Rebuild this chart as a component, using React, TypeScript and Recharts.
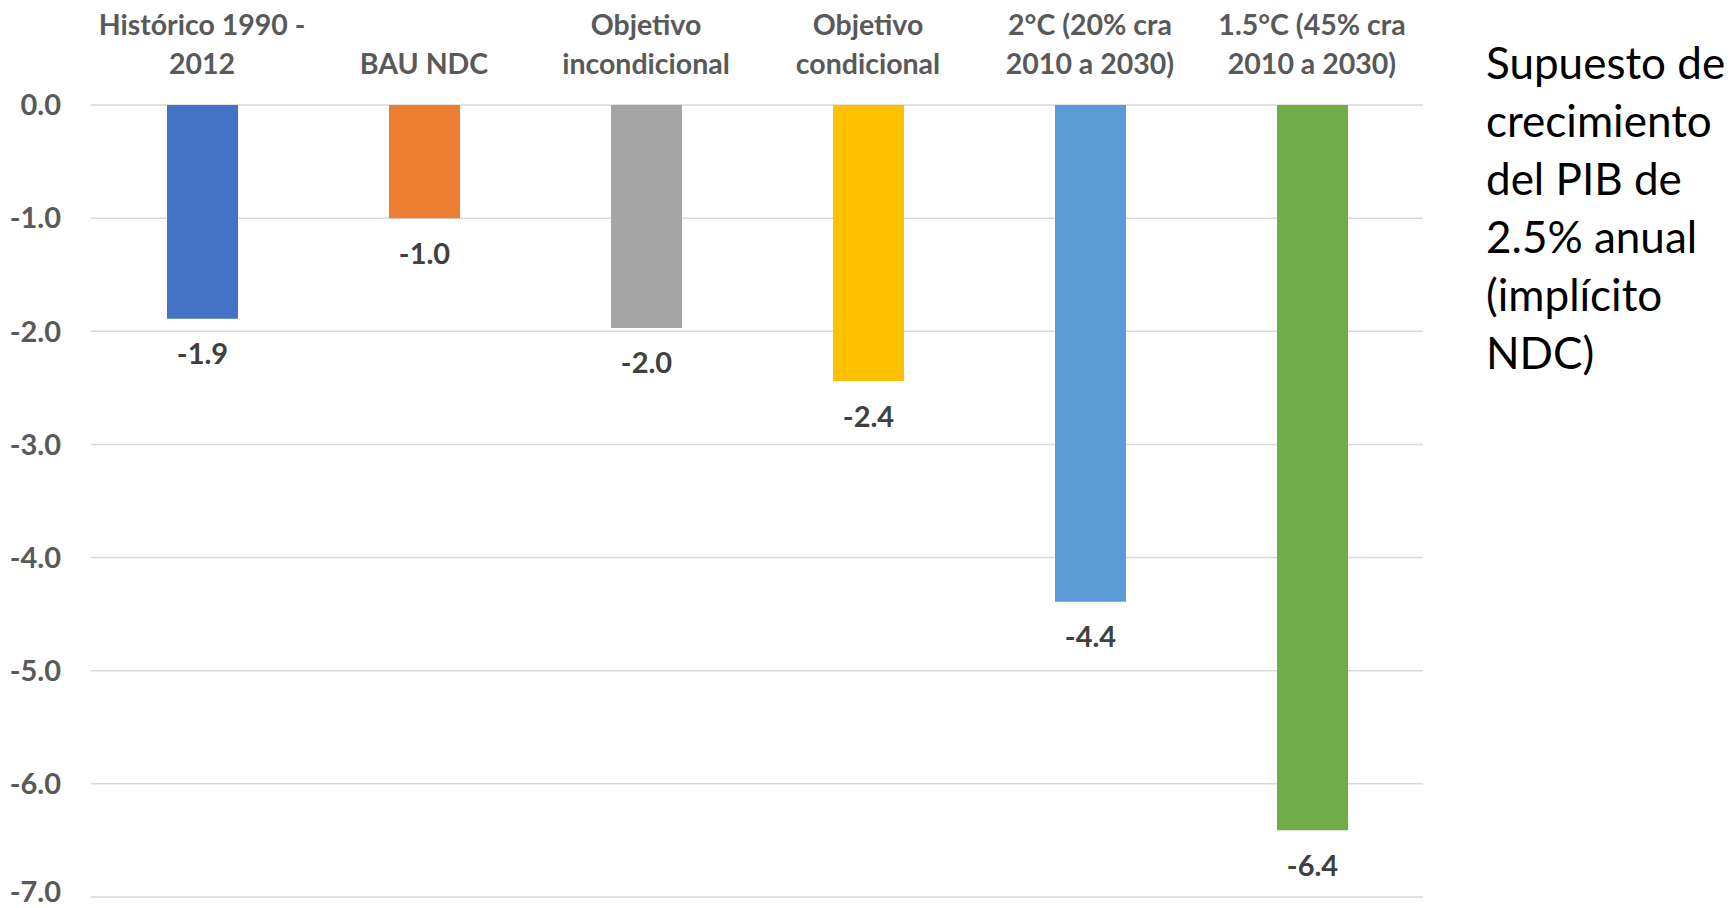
import React from 'react';
import { BarChart, Bar, XAxis, YAxis, CartesianGrid, LabelList, Cell } from 'recharts';

const categories = [
  ['Histórico 1990 -', '2012'],
  ['BAU NDC'],
  ['Objetivo', 'incondicional'],
  ['Objetivo', 'condicional'],
  ['2°C (20% cra', '2010 a 2030)'],
  ['1.5°C (45% cra', '2010 a 2030)'],
];
const values = [-1.89, -1.0, -1.97, -2.44, -4.39, -6.41];
const colors = ['#4472C4', '#ED7D31', '#A5A5A5', '#FFC000', '#5B9BD5', '#70AD47'];
const yTicks = [0, -1, -2, -3, -4, -5, -6, -7];
const noteLines = ['Supuesto de', 'crecimiento', 'del PIB de', '2.5% anual', '(implícito', 'NDC)'];

const data = categories.map((c, i) => ({ name: c.join('\n'), value: values[i] }));

const FONT = 'Lato, "Open Sans", sans-serif';

const CategoryTick = (props: any) => {
  const { x, payload } = props;
  const lines: string[] = String(payload.value).split('\n');
  const rows = lines.length === 1 ? [63] : [24, 63];
  return (
    <g>
      {lines.map((t, i) => (
        <text
          key={i}
          x={x}
          y={rows[i]}
          textAnchor="middle"
          dominantBaseline="central"
          fill="#595959"
          fontSize={28.5}
          fontWeight={700}
          fontFamily={FONT}
        >
          {t}
        </text>
      ))}
    </g>
  );
};

const ValueLabel = (props: any) => {
  const { x, y, width, height, value } = props;
  const bottom = Math.max(y, y + height);
  return (
    <text
      x={x + width / 2}
      y={bottom + 34}
      textAnchor="middle"
      dominantBaseline="central"
      fill="#404040"
      fontSize={29}
      fontWeight={700}
      fontFamily={FONT}
    >
      {Number(value).toFixed(1)}
    </text>
  );
};

export default function App() {
  return (
    <div style={{ position: 'absolute', left: 0, top: 0, width: 1731, height: 908, background: '#fff' }}>
      <BarChart
        width={1731}
        height={908}
        data={data}
        margin={{ top: 0, right: 308, bottom: 11, left: 0 }}
      >
        <CartesianGrid vertical={false} stroke="#d9d9d9" strokeWidth={1.5} />
        <XAxis
          dataKey="name"
          orientation="top"
          height={105}
          axisLine={false}
          tickLine={false}
          interval={0}
          tick={<CategoryTick />}
        />
        <YAxis
          type="number"
          domain={[-7, 0]}
          ticks={yTicks}
          width={91}
          axisLine={false}
          tickLine={false}
          tickSize={0}
          tickMargin={30}
          tickFormatter={(v: number) => v.toFixed(1)}
          tick={{ fill: '#595959', fontSize: 29, fontWeight: 700, fontFamily: FONT }}
        />
        <Bar dataKey="value" barSize={71} isAnimationActive={false}>
          {data.map((_, i) => (
            <Cell key={i} fill={colors[i]} />
          ))}
          <LabelList dataKey="value" content={<ValueLabel />} />
        </Bar>
      </BarChart>
      <div
        style={{
          position: 'absolute',
          left: 1486,
          top: 33,
          fontFamily: FONT,
          fontSize: 44,
          lineHeight: '58px',
          color: '#000',
          whiteSpace: 'nowrap',
        }}
      >
        {noteLines.map((l, i) => (
          <div key={i}>{l}</div>
        ))}
      </div>
    </div>
  );
}
